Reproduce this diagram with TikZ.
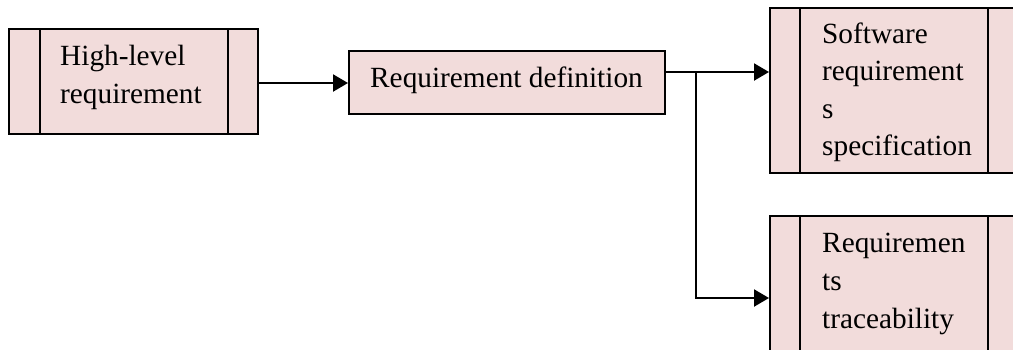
\documentclass[tikz,border=0pt]{standalone}
\usepackage{fontspec}
\setmainfont{Liberation Serif}
\usetikzlibrary{arrows.meta}
\definecolor{boxpink}{RGB}{242,220,219}
\begin{document}
\begin{tikzpicture}[x=1pt,y=-1pt,
  box/.style={draw=black, line width=2.2pt, fill=boxpink, inner sep=0pt, anchor=north west},
  sideline/.style={draw=black, line width=2pt},
  txt/.style={anchor=base west, inner sep=0pt, font=\fontsize{29.3}{37}\selectfont},
  arr/.style={draw=black, line width=2.2pt, -{Triangle[length=15pt,width=17pt]}},
  conn/.style={draw=black, line width=2.2pt}]
\useasboundingbox (0,0) rectangle (1013,349);
% boxes
\node[box, minimum width=249pt, minimum height=105pt] (hl) at (8,28) {};
\node[box, minimum width=316pt, minimum height=63pt] (rd) at (348,50) {};
\node[box, minimum width=248pt, minimum height=165pt] (srs) at (769,7) {};
\node[box, minimum width=248pt, minimum height=165pt] (rt) at (769,215) {};
% inner side lines
\draw[sideline] ([xshift=32pt]hl.north west) -- ([xshift=32pt]hl.south west);
\draw[sideline] ([xshift=-31pt]hl.north east) -- ([xshift=-31pt]hl.south east);
\draw[sideline] ([xshift=31pt]srs.north west) -- ([xshift=31pt]srs.south west);
\draw[sideline] ([xshift=-31pt]srs.north east) -- ([xshift=-31pt]srs.south east);
\draw[sideline] ([xshift=31pt]rt.north west) -- ([xshift=31pt]rt.south west);
\draw[sideline] ([xshift=-31pt]rt.north east) -- ([xshift=-31pt]rt.south east);
% texts
\node[txt] (hl1) at (60,65) {High-level};
\node[txt] (hl2) at (60,103) {requirement};
\node[txt] (rd1) at (370,87) {Requirement definition};
\node[txt] (s1) at (822,43) {Software};
\node[txt] (s2) at (822,80) {requirement};
\node[txt] (s3) at (822,118) {s};
\node[txt] (s4) at (822,155) {specification};
\node[txt] (t1) at (822,252) {Requiremen};
\node[txt] (t2) at (822,290) {ts};
\node[txt] (t3) at (822,328) {traceability};
% connectors
\coordinate (a1) at (0,83);
\coordinate (j1) at (696,72);
\coordinate (j2) at (696,298);
\draw[arr] (hl.east |- a1) -- (rd.west |- a1);
\draw[conn] (rd.east |- j1) -- (j1);
\draw[arr] (j1) -- (srs.west |- j1);
\draw[arr] (j1) -- (j2) -- (rt.west |- j2);
\end{tikzpicture}
\end{document}
